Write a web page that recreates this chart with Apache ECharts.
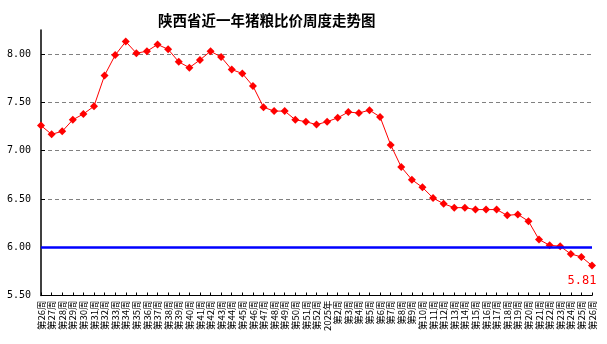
<!DOCTYPE html>
<html>
<head>
<meta charset="utf-8">
<script src="https://cdn.jsdelivr.net/npm/echarts@6/dist/echarts.min.js"></script>
<style>html,body{margin:0;padding:0;background:#fff;}#c{width:607px;height:344px;}</style>
</head>
<body>
<div id="c"></div>
<script>
const titleText = '陕西省近一年猪粮比价周度走势图';
const categories = ['第26周','第27周','第28周','第29周','第30周','第31周','第32周','第33周','第34周','第35周','第36周','第37周','第38周','第39周','第40周','第41周','第42周','第43周','第44周','第45周','第46周','第47周','第48周','第49周','第50周','第51周','第52周','2025年','第2周','第3周','第4周','第5周','第6周','第7周','第8周','第9周','第10周','第11周','第12周','第13周','第14周','第15周','第16周','第17周','第18周','第19周','第20周','第21周','第22周','第23周','第24周','第25周','第26周'];
const ratioValues = [7.26,7.17,7.20,7.32,7.38,7.46,7.78,7.99,8.13,8.01,8.03,8.10,8.05,7.92,7.86,7.94,8.03,7.97,7.84,7.80,7.67,7.45,7.41,7.41,7.32,7.30,7.27,7.30,7.34,7.40,7.39,7.42,7.35,7.06,6.83,6.70,6.62,6.51,6.45,6.41,6.41,6.39,6.39,6.39,6.33,6.34,6.27,6.08,6.02,6.01,5.93,5.90,5.81];
const referenceLine = 6.00;
const yMin = 5.5, yMax = 8.25, yStep = 0.5;

const chart = echarts.init(document.getElementById('c'), null, {renderer: 'canvas'});
const lastIdx = ratioValues.length - 1;
chart.setOption({
  animation: false,
  backgroundColor: '#fff',
  title: {
    text: titleText, left: 153, top: 8,
    textStyle: {fontSize: 14.5, fontWeight: 'bold', color: '#000', fontFamily: '"Noto Sans CJK SC", sans-serif'}
  },
  grid: {left: 41, right: 15, top: 30, bottom: 48.5, containLabel: false},
  xAxis: {
    type: 'category', data: categories, boundaryGap: false,
    axisLine: {lineStyle: {color: '#000', width: 1}},
    axisTick: {show: true, inside: true, length: 3, interval: 0, lineStyle: {color: '#000'}},
    axisLabel: {interval: 0, rotate: 90, margin: 5, fontSize: 9.5, color: '#000', fontFamily: '"Noto Sans CJK SC", sans-serif'},
    splitLine: {show: false}
  },
  yAxis: {
    type: 'value', min: yMin, max: yMax, interval: yStep,
    axisLine: {show: true, lineStyle: {color: '#000', width: 1.5}},
    axisTick: {show: true, inside: true, length: 4, lineStyle: {color: '#000'}},
    axisLabel: {showMaxLabel: false, margin: 10, fontSize: 10, color: '#000', fontFamily: '"DejaVu Sans Mono", monospace',
      formatter: v => (v > 8.2 ? '' : v.toFixed(2))},
    splitLine: {show: true, showMinLine: false, showMaxLine: false, lineStyle: {color: '#808080', type: [4, 3], width: 1}}
  },
  series: [{
    type: 'line', data: ratioValues.map((v, i) => i === lastIdx ? {value: v, label: {show: true}} : v),
    symbol: 'diamond', symbolSize: 8,
    itemStyle: {color: '#ff0000'},
    lineStyle: {color: '#ff0000', width: 1},
    label: {show: false, position: 'bottom', offset: [-10, 0], distance: 5, color: '#ff0000', fontSize: 12,
      fontFamily: '"DejaVu Sans Mono", monospace', formatter: p => p.value.toFixed(2)},
    markLine: {
      silent: true, symbol: ['none', 'none'], label: {show: false},
      lineStyle: {color: '#0000ff', width: 2.5, type: 'solid'},
      data: [{yAxis: referenceLine}]
    },
    z: 3
  }]
});
</script>
</body>
</html>
